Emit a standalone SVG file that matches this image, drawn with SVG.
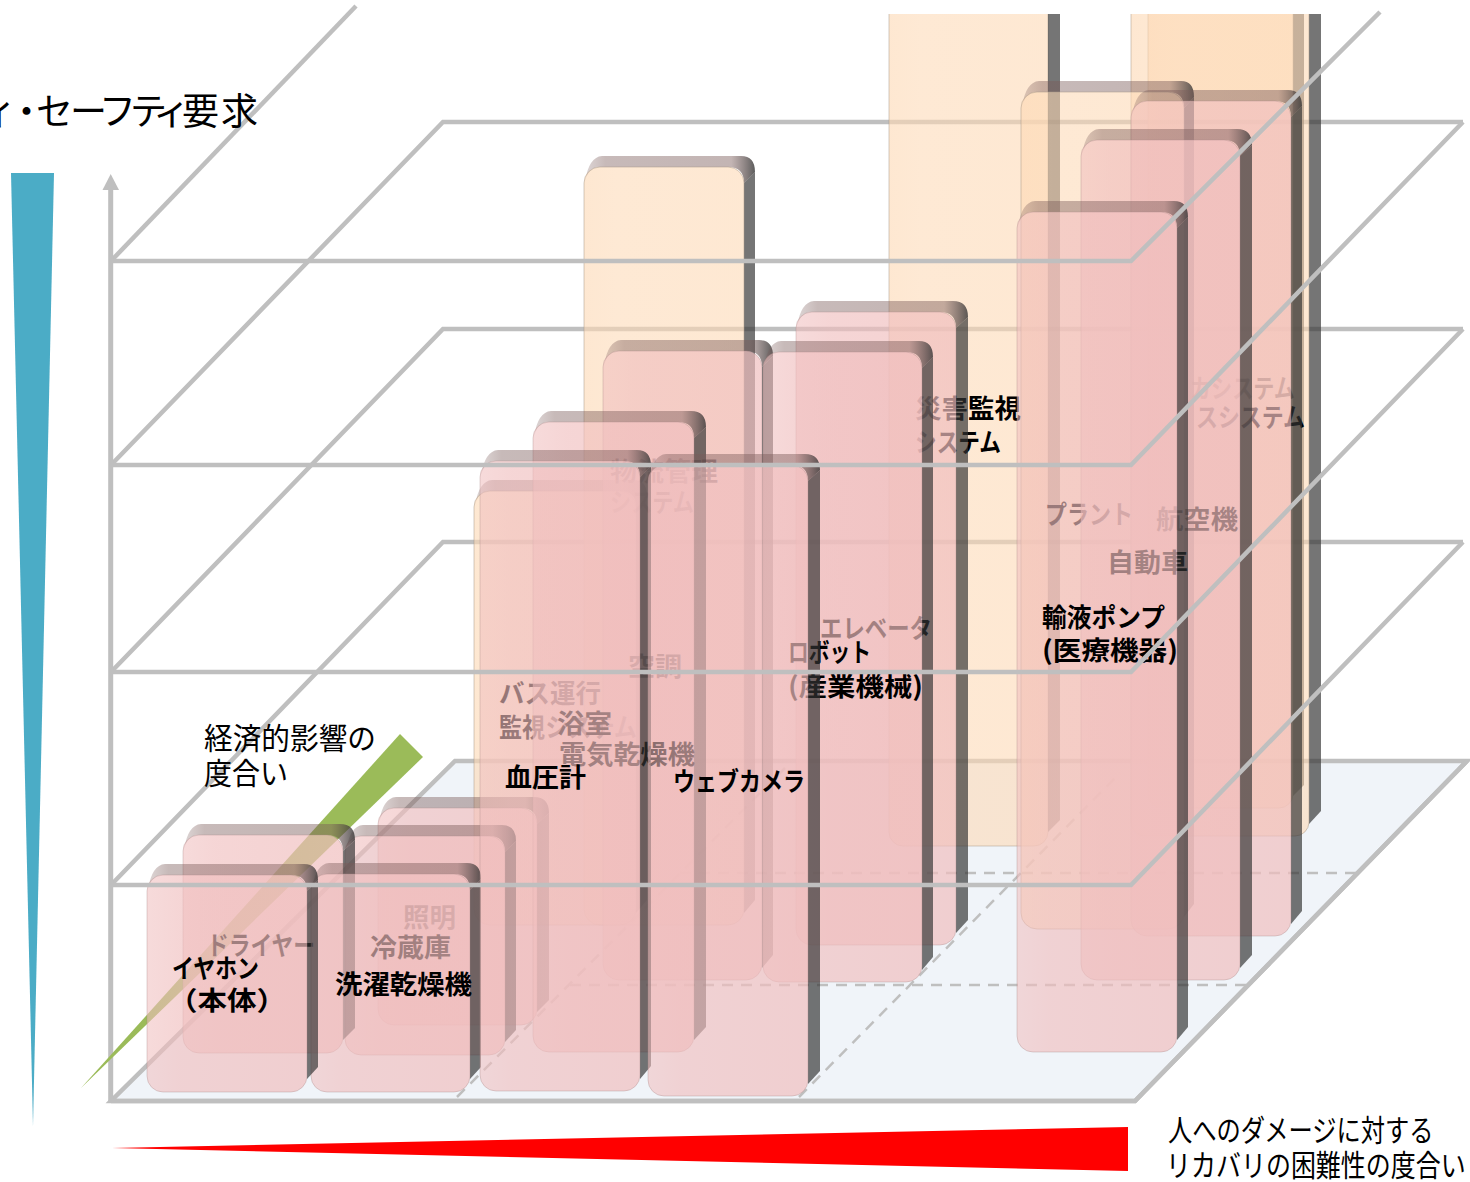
<svg xmlns="http://www.w3.org/2000/svg" width="1470" height="1182" viewBox="0 0 1470 1182">
<style>
text{font-family:"Noto Sans CJK JP","Noto Sans",sans-serif;fill:#000}
.ax{font-size:30px;font-weight:400}
.lb{font-size:26px;font-weight:700}
.fr{fill:url(#pink);stroke:#a88;stroke-opacity:.35;stroke-width:1}
.fo{fill:url(#orange);stroke:#a98;stroke-opacity:.5;stroke-width:1}
.tp{fill:url(#band)}
.sd{fill:#333;fill-opacity:.68}
.gl{fill:none;stroke:#bfbfbf;stroke-width:4.5}
.ds{fill:none;stroke:#bfbfbf;stroke-width:2.5;stroke-dasharray:11 8}
</style>
<defs>
<linearGradient id="pink"><stop offset="0" stop-color="#f0bebe" stop-opacity=".56"/><stop offset=".2" stop-color="#f0bebe" stop-opacity=".64"/><stop offset="1" stop-color="#f0bebe" stop-opacity=".7"/></linearGradient>
<linearGradient id="orange"><stop offset="0" stop-color="#fdd9b5" stop-opacity=".62"/><stop offset=".2" stop-color="#fdd9b5" stop-opacity=".58"/><stop offset="1" stop-color="#fdd9b5" stop-opacity=".6"/></linearGradient>
<linearGradient id="band"><stop offset="0" stop-color="#7a5a58" stop-opacity=".25"/><stop offset=".12" stop-color="#7a5a58" stop-opacity=".42"/><stop offset=".86" stop-color="#7a5a58" stop-opacity=".45"/><stop offset="1" stop-color="#333" stop-opacity=".8"/></linearGradient>
<clipPath id="topclip"><rect x="0" y="14" width="1470" height="1168"/></clipPath>
</defs>

<g id="floor">
<path d="M111,1101H1135L1467,761H455Z" fill="#f0f4f9" stroke="#bfbfbf" stroke-width="4.5"/>
<path class="ds" d="M457,1097L785,768"/>
<path class="ds" d="M799,1097L1120,773"/>
<path class="ds" d="M570,985H1247"/>
<path class="ds" d="M680,873H1359"/>
</g>
<g id="axis-back">
<path class="gl" d="M111,261L356,6"/>
<path class="gl" d="M1463,122H443L111,465"/>
<path class="gl" d="M1463,329H443L111,672"/>
<path class="gl" d="M1463,542H443L111,885"/>
<path d="M110.7,1101V188" fill="none" stroke="#bfbfbf" stroke-width="5"/>
<polygon points="102.5,190 119,190 110.7,174" fill="#bfbfbf"/>
</g>
<polygon id="wedge-green" points="81,1088 400,734 423,757" fill="#9bbb59"/>

<g clip-path="url(#topclip)">
<g id="pillar-o1">
<rect class="fo" x="889" y="-10" width="159" height="856" rx="14"/>
<path class="sd" d="M1048,-10H1060V820L1048,832Z"/>
<text class="lb" x="915" y="418" textLength="106" lengthAdjust="spacingAndGlyphs">災害監視</text>
<text class="lb" x="915" y="452" textLength="86" lengthAdjust="spacingAndGlyphs">システム</text>
</g>
<g id="pillar-o3">
<path class="sd" d="M1293,-10H1304V785L1293,796Z"/>
<rect class="fo" x="1148" y="-10" width="145" height="818" rx="14"/>
<text class="lb" x="1190" y="398" textLength="105" lengthAdjust="spacingAndGlyphs">カシステム</text>
</g>
<g id="pillar-o2">
<path class="sd" d="M1309,-10H1321V811L1309,824Z"/>
<rect class="fo" x="1131" y="-10" width="178" height="846" rx="14"/>
<text class="lb" x="1196" y="427" textLength="109" lengthAdjust="spacingAndGlyphs">スシステム</text>
</g>
</g>
<g id="pillar-o4">
<path class="tp" d="M1022,106Q1026,82 1039,81H1181Q1194,81 1194,97L1184,108Q1184,92 1168,92H1037Q1026,92 1022,106Z"/>
<path class="sd" d="M1184,108L1194,97V904L1184,917Z"/>
<rect class="fo" x="1021" y="92" width="163" height="837" rx="16"/>
<text class="lb" x="1045" y="524" textLength="88" lengthAdjust="spacingAndGlyphs">プラント</text>
</g>
<g id="pillar-o5">
<path class="tp" d="M585,181Q589,157 602,156H741Q755,156 755,172L744,183Q744,167 728,167H600Q589,167 585,181Z"/>
<path class="sd" d="M744,183L755,172V900L744,913Z"/>
<rect class="fo" x="584" y="167" width="160" height="758" rx="16"/>
<text class="lb" x="610" y="481" textLength="108" lengthAdjust="spacingAndGlyphs">物流管理</text>
<text class="lb" x="610" y="512" textLength="84" lengthAdjust="spacingAndGlyphs">システム</text>
</g>
<g id="pillar-o6">
<path class="tp" d="M475,505Q479,481 492,480H633Q647,480 647,496L636,507Q636,491 620,491H490Q479,491 475,505Z"/>
<path class="sd" d="M636,507L647,496V900L636,913Z"/>
<rect class="fo" x="474" y="491" width="162" height="434" rx="16"/>
<text class="lb" x="499" y="703" textLength="102" lengthAdjust="spacingAndGlyphs">バス運行</text>
<text class="lb" x="499" y="737" textLength="138" lengthAdjust="spacingAndGlyphs">監視システム</text>
</g>

<g id="pillar-p5">
<path class="tp" d="M379,822Q383,798 396,797H534Q549,797 549,813L537,824Q537,808 521,808H394Q383,808 379,822Z"/>
<path class="sd" d="M537,824L549,813V1000L537,1012Z"/>
<rect class="fr" x="378" y="808" width="159" height="217" rx="16"/>
<text class="lb" x="403" y="927" textLength="53" lengthAdjust="spacingAndGlyphs">照明</text>
</g>
<g id="pillar-p4">
<path class="tp" d="M346,850Q350,826 363,825H502Q516,825 516,841L505,852Q505,836 489,836H361Q350,836 346,850Z"/>
<path class="sd" d="M505,852L516,841V1030L505,1042Z"/>
<rect class="fr" x="345" y="836" width="160" height="219" rx="16"/>
<text class="lb" x="370" y="957" textLength="81" lengthAdjust="spacingAndGlyphs">冷蔵庫</text>
</g>
<g id="pillar-p2">
<path class="tp" d="M184,849Q188,825 201,824H340Q355,824 355,840L343,851Q343,835 327,835H199Q188,835 184,849Z"/>
<path class="sd" d="M343,851L355,840V1028L343,1040Z"/>
<rect class="fr" x="183" y="835" width="160" height="218" rx="16"/>
<text class="lb" x="207" y="955" textLength="108" lengthAdjust="spacingAndGlyphs">ドライヤー</text>
</g>
<g id="pillar-p3">
<path class="tp" d="M312,888Q316,864 329,863H467Q481,863 481,879L470,890Q470,874 454,874H327Q316,874 312,888Z"/>
<path class="sd" d="M470,890L481,879V1067L470,1079Z"/>
<rect class="fr" x="311" y="874" width="159" height="218" rx="16"/>
<text class="lb" x="335" y="994" textLength="137" lengthAdjust="spacingAndGlyphs">洗濯乾燥機</text>
</g>
<g id="pillar-p1">
<path class="tp" d="M148,889Q152,865 165,864H304Q318,864 318,880L307,891Q307,875 291,875H163Q152,875 148,889Z"/>
<path class="sd" d="M307,891L318,880V1067L307,1079Z"/>
<rect class="fr" x="147" y="875" width="160" height="217" rx="16"/>
<text class="lb" x="172" y="978" textLength="87" lengthAdjust="spacingAndGlyphs">イヤホン</text>
<text class="lb" x="168" y="1010" textLength="118" lengthAdjust="spacingAndGlyphs">（本体）</text>
</g>

<g id="pillar-p11">
<path class="tp" d="M797,326Q801,302 814,301H953Q968,301 968,317L956,328Q956,312 940,312H812Q801,312 797,326Z"/>
<path class="sd" d="M956,328L968,317V920L956,933Z"/>
<rect class="fr" x="796" y="312" width="160" height="633" rx="16"/>
<text class="lb" x="820" y="638" textLength="112" lengthAdjust="spacingAndGlyphs">エレベータ</text>
</g>
<g id="pillar-p9">
<path class="tp" d="M604,365Q608,341 621,340H759Q773,340 773,356L762,367Q762,351 746,351H619Q608,351 604,365Z"/>
<path class="sd" d="M762,367L773,356V955L762,968Z"/>
<rect class="fr" x="603" y="351" width="159" height="629" rx="16"/>
<text class="lb" x="628" y="676" textLength="54" lengthAdjust="spacingAndGlyphs">空調</text>
</g>
<g id="pillar-p10">
<path class="tp" d="M764,366Q768,342 781,341H919Q933,341 933,357L922,368Q922,352 906,352H779Q768,352 764,366Z"/>
<path class="sd" d="M922,368L933,357V957L922,970Z"/>
<rect class="fr" x="763" y="352" width="159" height="630" rx="16"/>
<text class="lb" x="788" y="662" textLength="83" lengthAdjust="spacingAndGlyphs">ロボット</text>
<text class="lb" x="788" y="696" textLength="135" lengthAdjust="spacingAndGlyphs">(産業機械)</text>
</g>
<g id="pillar-p7">
<path class="tp" d="M534,436Q538,412 551,411H691Q706,411 706,427L694,438Q694,422 678,422H549Q538,422 534,436Z"/>
<path class="sd" d="M694,438L706,427V1027L694,1040Z"/>
<rect class="fr" x="533" y="422" width="161" height="630" rx="16"/>
<text class="lb" x="557" y="733" textLength="55" lengthAdjust="spacingAndGlyphs">浴室</text>
<text class="lb" x="559" y="764" textLength="136" lengthAdjust="spacingAndGlyphs">電気乾燥機</text>
</g>
<g id="pillar-p6">
<path class="tp" d="M481,475Q485,451 498,450H637Q651,450 651,466L640,477Q640,461 624,461H496Q485,461 481,475Z"/>
<path class="sd" d="M640,477L651,466V1066L640,1079Z"/>
<rect class="fr" x="480" y="461" width="160" height="630" rx="16"/>
<text class="lb" x="505" y="787" textLength="81" lengthAdjust="spacingAndGlyphs">血圧計</text>
</g>
<g id="pillar-p8">
<path class="tp" d="M649,479Q653,455 666,454H805Q820,454 820,470L808,481Q808,465 792,465H664Q653,465 649,479Z"/>
<path class="sd" d="M808,481L820,470V1071L808,1084Z"/>
<rect class="fr" x="648" y="465" width="160" height="631" rx="16"/>
<text class="lb" x="673" y="791" textLength="132" lengthAdjust="spacingAndGlyphs">ウェブカメラ</text>
</g>

<g id="pillar-p14">
<path class="tp" d="M1132,115Q1136,91 1149,90H1288Q1302,90 1302,106L1291,117Q1291,101 1275,101H1147Q1136,101 1132,115Z"/>
<path class="sd" d="M1291,117L1302,106V911L1291,924Z"/>
<rect class="fr" x="1131" y="101" width="160" height="835" rx="16"/>
<text class="lb" x="1156" y="529" textLength="82" lengthAdjust="spacingAndGlyphs">航空機</text>
</g>
<g id="pillar-p13">
<path class="tp" d="M1082,154Q1086,130 1099,129H1237Q1252,129 1252,145L1240,156Q1240,140 1224,140H1097Q1086,140 1082,154Z"/>
<path class="sd" d="M1240,156L1252,145V955L1240,968Z"/>
<rect class="fr" x="1081" y="140" width="159" height="840" rx="16"/>
<text class="lb" x="1107" y="572" textLength="81" lengthAdjust="spacingAndGlyphs">自動車</text>
</g>
<g id="pillar-p12">
<path class="tp" d="M1018,226Q1022,202 1035,201H1174Q1188,201 1188,217L1177,228Q1177,212 1161,212H1033Q1022,212 1018,226Z"/>
<path class="sd" d="M1177,228L1188,217V1027L1177,1040Z"/>
<rect class="fr" x="1017" y="212" width="160" height="840" rx="16"/>
<text class="lb" x="1042" y="627" textLength="123" lengthAdjust="spacingAndGlyphs">輸液ポンプ</text>
<text class="lb" x="1042" y="660" textLength="136" lengthAdjust="spacingAndGlyphs">(医療機器)</text>
</g>

<g id="connectors">
<path class="gl" d="M111,261H1131L1380,12"/>
<path class="gl" d="M111,465H1131L1463,122"/>
<path class="gl" d="M111,672H1131L1463,329"/>
<path class="gl" d="M111,885H1131L1463,542"/>
<path class="gl" d="M111,1101H1135L1467,761"/>
</g>

<g id="scales">
<polygon points="11,173 54,173 33,1126" fill="#4bacc6"/>
<polygon points="112,1148 1128,1127 1128,1171" fill="#ff0000"/>
</g>
<g id="axis-labels">
<text class="ax" style="font-size:37px" x="-20 8 36 70 99 130 153 182 221" y="125">ィ・セーフティ要求</text>
<text class="ax" x="204" y="749" textLength="172" lengthAdjust="spacingAndGlyphs">経済的影響の</text>
<text class="ax" x="204" y="784" textLength="84" lengthAdjust="spacingAndGlyphs">度合い</text>
<text class="ax" transform="translate(1168,1141) scale(.809,1)">人へのダメージに対する</text>
<text class="ax" transform="translate(1166,1176) scale(.833,1)">リカバリの困難性の度合い</text>
</g>
</svg>
